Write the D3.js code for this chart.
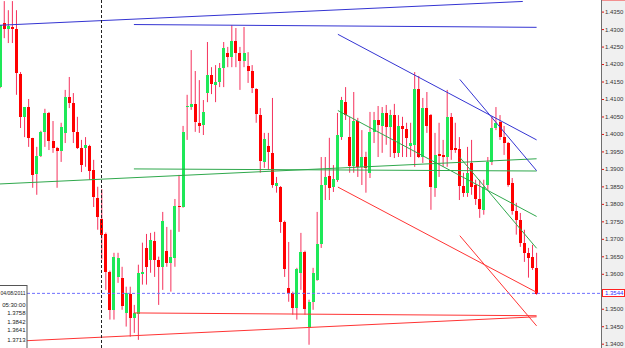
<!DOCTYPE html>
<html>
<head>
<meta charset="utf-8">
<script src="https://cdn.jsdelivr.net/npm/d3@7/dist/d3.min.js"></script>
<style>
  html, body { margin: 0; padding: 0; background: #fff; }
  svg { display: block; font-family: "Liberation Sans", Arial, sans-serif; }
</style>
</head>
<body>
<div id="chart"></div>
<script>
// candles, 1-based index in the chart
const opens = [
  1.4134,1.4317,1.4300,1.4306,1.4300,1.4171,1.4049,1.4077,1.3989,1.3886,
  1.3937,1.4006,1.4060,1.3980,1.3960,1.3952,1.4003,1.4106,1.4089,1.4006,
  1.3960,1.3960,1.3966,1.3897,1.3817,1.3758,1.3713,1.3606,1.3497,1.3591,
  1.3589,1.3489,1.3543,1.3474,1.3486,1.3600,1.3674,1.3640,1.3694,1.3640,
  1.3620,1.3666,1.3631,1.3646,1.3794,1.3791,1.4077,1.4077,1.4086,1.4031,
  1.4026,1.4117,1.4169,1.4140,1.4149,1.4189,1.4231,1.4220,1.4266,1.4231,
  1.4209,1.4194,1.4180,1.4129,1.4054,1.3920,1.3966,1.3946,1.3851,1.3849,
  1.3749,1.3560,1.3546,1.3503,1.3603,1.3663,1.3446,1.3520,1.3583,1.3686,
  1.3854,1.3880,1.3849,1.3869,1.3991,1.4091,1.3991,1.3909,1.4037,1.3906,
  1.3934,1.3889,1.4006,1.4040,1.4023,1.4060,1.4020,1.4054,1.3946,1.4023,
  1.4014,1.3966,1.3969,1.4129,1.3934,1.4074,1.4054,1.3846,1.3943,1.3940,
  1.3934,1.4049,1.3960,1.3957,1.3851,1.3832,1.3917,1.3854,1.3814,1.3783,
  1.3854,1.3920,1.4017,1.4034,1.3991,1.3974,1.3860,1.3780,1.3754,1.3689,
  1.3660,1.3649,1.3617
];
const highs = [
  1.4311,1.4380,1.4354,1.4380,1.4354,1.4177,1.4077,1.4100,1.3989,1.3963,
  1.4009,1.4072,1.4063,1.4037,1.3963,1.4032,1.4126,1.4163,1.4117,1.4049,
  1.3983,1.3991,1.3969,1.3926,1.3849,1.3842,1.3718,1.3609,1.3660,1.3660,
  1.3620,1.3563,1.3563,1.3511,1.3626,1.3689,1.3714,1.3717,1.3720,1.3649,
  1.3777,1.3734,1.3726,1.3814,1.3883,1.4023,1.4112,1.4240,1.4180,1.4154,
  1.4097,1.4263,1.4191,1.4197,1.4203,1.4263,1.4249,1.4311,1.4303,1.4249,
  1.4306,1.4234,1.4197,1.4131,1.4074,1.4003,1.4003,1.4103,1.3877,1.3851,
  1.3752,1.3691,1.3549,1.3617,1.3717,1.3666,1.3526,1.3617,1.3777,1.3934,
  1.3934,1.3989,1.3911,1.4060,1.4106,1.4134,1.4049,1.4120,1.4046,1.4011,
  1.3949,1.4063,1.4063,1.4080,1.4077,1.4083,1.4069,1.4086,1.4054,1.4049,
  1.4032,1.4032,1.4177,1.4166,1.4103,1.4120,1.4057,1.4003,1.4032,1.3983,
  1.4126,1.4060,1.4032,1.3991,1.3889,1.3963,1.3983,1.3869,1.3869,1.3869,
  1.3934,1.4049,1.4077,1.4054,1.4023,1.3977,1.3874,1.3803,1.3774,1.3726,
  1.3674,1.3683,1.3660
];
const lows = [
  1.4131,1.4274,1.4260,1.4260,1.4112,1.4017,1.3991,1.3963,1.3846,1.3826,
  1.3934,1.3963,1.3954,1.3946,1.3846,1.3920,1.3974,1.4074,1.3974,1.3957,
  1.3891,1.3906,1.3869,1.3791,1.3726,1.3641,1.3554,1.3469,1.3469,1.3574,
  1.3497,1.3449,1.3420,1.3431,1.3411,1.3569,1.3569,1.3603,1.3591,1.3511,
  1.3554,1.3620,1.3549,1.3620,1.3720,1.3789,1.3983,1.4069,1.4006,1.4003,
  1.3997,1.4091,1.4114,1.4091,1.4134,1.4134,1.4191,1.4191,1.4191,1.4126,
  1.4191,1.4146,1.4117,1.4032,1.3889,1.3903,1.3897,1.3846,1.3832,1.3717,
  1.3591,1.3520,1.3483,1.3469,1.3554,1.3483,1.3397,1.3497,1.3580,1.3674,
  1.3811,1.3811,1.3834,1.3863,1.3983,1.4040,1.3889,1.3889,1.3877,1.3854,
  1.3832,1.3874,1.3974,1.3934,1.3946,1.3969,1.3934,1.3931,1.3934,1.3934,
  1.3934,1.3934,1.3906,1.3931,1.3917,1.4003,1.3783,1.3820,1.3877,1.3906,
  1.3906,1.3926,1.3946,1.3811,1.3820,1.3820,1.3826,1.3797,1.3760,1.3769,
  1.3840,1.3911,1.4011,1.3983,1.3940,1.3849,1.3769,1.3712,1.3677,1.3634,
  1.3589,1.3611,1.3540
];
const closes = [
  1.4311,1.4300,1.4309,1.4300,1.4174,1.4049,1.4077,1.3989,1.3883,1.3937,
  1.4006,1.4060,1.3980,1.3960,1.3952,1.4020,1.4106,1.4089,1.4006,1.3960,
  1.3911,1.3969,1.3894,1.3820,1.3763,1.3713,1.3603,1.3497,1.3649,1.3646,
  1.3509,1.3546,1.3474,1.3489,1.3603,1.3606,1.3620,1.3697,1.3640,1.3620,
  1.3752,1.3631,1.3649,1.3794,1.3791,1.4006,1.4080,1.4086,1.4034,1.4023,
  1.4063,1.4169,1.4143,1.4149,1.4189,1.4246,1.4220,1.4266,1.4231,1.4209,
  1.4231,1.4180,1.4131,1.4057,1.3923,1.3986,1.3949,1.3854,1.3860,1.3749,
  1.3614,1.3546,1.3503,1.3614,1.3663,1.3500,1.3520,1.3603,1.3686,1.3854,
  1.3877,1.3846,1.3871,1.3997,1.4097,1.4054,1.3909,1.4037,1.3906,1.3934,
  1.3903,1.4006,1.4040,1.4026,1.4060,1.4020,1.4054,1.3946,1.4023,1.4014,
  1.3989,1.3974,1.4129,1.3934,1.4074,1.4023,1.3849,1.3940,1.3937,1.3934,
  1.4049,1.3954,1.3954,1.3851,1.3832,1.3889,1.3849,1.3814,1.3786,1.3849,
  1.3920,1.4017,1.4032,1.3991,1.3974,1.3854,1.3780,1.3754,1.3689,1.3660,
  1.3646,1.3617,1.3544
];

// drawn objects: [color, fromIndex, fromPrice, toIndex, toPrice]
const trendLines = [
  ["blue",  0.95, 1.4311, 129.6, 1.4379],
  ["green", 0.95, 1.3857, 133, 1.3929],
  ["red",   0.95, 1.3405, 133, 1.3477],
  ["blue",  33.9, 1.4313, 133, 1.4305],
  ["green", 33.9, 1.3900, 133, 1.3894],
  ["red",   33.9, 1.3488, 133, 1.3480],
  ["blue",  84.1, 1.4285, 133, 1.3983],
  ["green", 84.1, 1.4067, 133, 1.3764],
  ["red",   84.1, 1.3848, 133, 1.3547],
  ["blue",  114.1, 1.4156, 133, 1.3895],
  ["green", 114.1, 1.3933, 133, 1.3673],
  ["red",   114.1, 1.3709, 133, 1.3451]
];

const priceTicks = [1.3400,1.3450,1.3500,1.3550,1.3600,1.3650,1.3700,1.3750,1.3800,1.3850,
  1.3900,1.3950,1.4000,1.4050,1.4100,1.4150,1.4200,1.4250,1.4300,1.4350];

const cursorIndex = 26;
const cursorDate = "04/08/2011";
const cursorTime = "05:30:00";
const lastPrice = 1.3544;

////////////////////////////////////////////////////////////////////
const width = 625, height = 348;
const plotRight = 601;
const lineColor = { blue: "#3434d2", green: "#2fa84c", red: "#ff3434" };

const svg = d3.select("#chart").append("svg")
  .attr("width", width).attr("height", height);

svg.append("defs").append("clipPath").attr("id", "plot-clip")
  .append("rect").attr("x", 0).attr("y", 0).attr("width", plotRight).attr("height", height);

// scales
const x = d3.scaleLinear().domain([1, 133]).range([0.2, 536.6]);
const y = d3.scaleLinear().domain([1.34, 1.435]).range([343.7, 11.6]);

const candles = opens.map((o, i) => ({
  i: i + 1, o: o, h: highs[i], l: lows[i], c: closes[i]
}));

const plot = svg.append("g").attr("clip-path", "url(#plot-clip)");

// wicks
plot.selectAll(".wick")
  .data(candles)
  .enter()
  .append("line")
  .attr("x1", d => x(d.i))
  .attr("x2", d => x(d.i))
  .attr("y1", d => y(d.h))
  .attr("y2", d => y(d.l))
  .attr("stroke", "#f5315c")
  .attr("stroke-width", 1);

// bodies
plot.selectAll(".body")
  .data(candles)
  .enter()
  .append("rect")
  .attr("x", d => Math.round(x(d.i) - 1.5))
  .attr("y", d => Math.round(y(Math.max(d.o, d.c))))
  .attr("width", 3)
  .attr("height", d => Math.max(1, Math.round(Math.abs(y(d.o) - y(d.c)))))
  .attr("fill", d => d.c >= d.o ? "#1ee858" : "#ff0000");

// trend lines
plot.selectAll(".trend")
  .data(trendLines)
  .enter()
  .append("line")
  .attr("x1", d => x(d[1]))
  .attr("y1", d => y(d[2]))
  .attr("x2", d => x(d[3]))
  .attr("y2", d => y(d[4]))
  .attr("stroke", d => lineColor[d[0]])
  .attr("stroke-width", 1);

// crosshair vertical
const cx = Math.floor(x(cursorIndex)) + 0.5;
plot.append("line")
  .attr("x1", cx).attr("x2", cx)
  .attr("y1", 0).attr("y2", height)
  .attr("stroke", "#222")
  .attr("stroke-dasharray", "3,2");

// last price dashed line
plot.append("line")
  .attr("x1", 27).attr("x2", plotRight)
  .attr("y1", y(lastPrice)).attr("y2", y(lastPrice))
  .attr("stroke", "#6f6fff")
  .attr("stroke-dasharray", "3,2");

// price axis panel
svg.append("rect")
  .attr("x", plotRight).attr("y", 0)
  .attr("width", width - plotRight).attr("height", height)
  .attr("fill", "#f0f0f0");

svg.append("line")
  .attr("x1", plotRight + 0.5).attr("x2", plotRight + 0.5)
  .attr("y1", 0).attr("y2", height)
  .attr("stroke", "#6e6e6e");

const yAxis = d3.axisRight(y)
  .tickValues(priceTicks.filter(p => Math.abs(y(p) - y(lastPrice)) > 5))
  .tickSize(2)
  .tickSizeOuter(0)
  .tickPadding(1)
  .tickFormat(d3.format(".4f"));

const axisG = svg.append("g")
  .attr("transform", `translate(${plotRight + 1},0)`)
  .call(yAxis);
axisG.select(".domain").remove();
axisG.selectAll(".tick line").attr("stroke", "#e01010");
axisG.selectAll(".tick text")
  .attr("fill", "#333")
  .style("font-size", "6px")
  .style("font-family", "'Liberation Sans', Arial, sans-serif");

// top edge of a clipped marker
svg.append("line")
  .attr("x1", plotRight + 1).attr("x2", width)
  .attr("y1", 0.5).attr("y2", 0.5)
  .attr("stroke", "#f29090");

// last price label
const ly = y(lastPrice);
svg.append("rect")
  .attr("x", plotRight + 1.5).attr("y", Math.round(ly) - 3.5)
  .attr("width", 22).attr("height", 7)
  .attr("fill", "#fff")
  .attr("stroke", "#ff2020");
svg.append("text")
  .attr("x", plotRight + 4).attr("y", ly)
  .attr("dy", "0.34em")
  .attr("fill", "#3030ff")
  .style("font-size", "6px")
  .text(d3.format(".4f")(lastPrice));

// data window box
const c0 = candles[cursorIndex - 1];
const infoRows = [cursorDate, cursorTime].concat([c0.o, c0.h, c0.l, c0.c].map(d3.format(".4f")));
const infoY = [295, 306.5, 315, 323.6, 332.3, 341.5];

svg.append("rect")
  .attr("x", -0.5).attr("y", 285.5)
  .attr("width", 27.5).attr("height", 64)
  .attr("fill", "#fff")
  .attr("stroke", "#555");

svg.selectAll(".info")
  .data(infoRows)
  .enter()
  .append("text")
  .attr("x", 25.5)
  .attr("y", (d, i) => infoY[i])
  .attr("text-anchor", "end")
  .attr("fill", "#222")
  .style("font-size", "6px")
  .each(function (d, i) {
    // the date is wider than the box: squeeze it in
    if (i === 0) d3.select(this).attr("textLength", 25).attr("lengthAdjust", "spacingAndGlyphs");
  })
  .text(d => d);
</script>
</body>
</html>
